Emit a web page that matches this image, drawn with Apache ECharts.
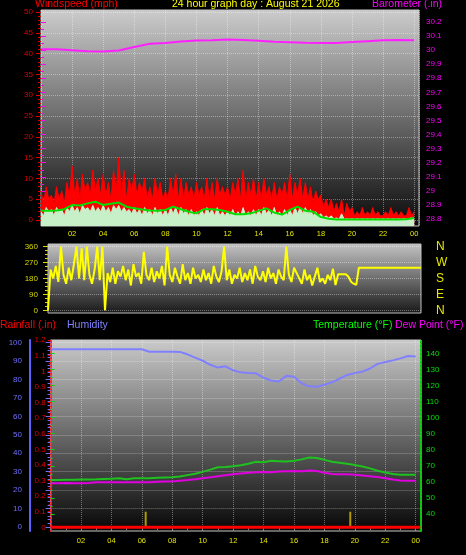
<!DOCTYPE html>
<html><head><meta charset="utf-8">
<script src="https://cdn.jsdelivr.net/npm/echarts@6/dist/echarts.min.js"></script>
<style>html,body{margin:0;padding:0;background:#000;}#c{width:466px;height:555px;}</style>
</head><body><div id="c"></div>
<script>
// ---------- DATA ----------
const hourLabels = ['00','02','04','06','08','10','12','14','16','18','20','22','00'];
// wind gust (mph), every 10 minutes
const windGust = [
 7,4,8,5,6,4, 8,5,7,4,9,6, 13,6,10,5,11,7, 9,6,12,7,10,6, 11,6,9,5,12,7, 15,6,12,5,10,7,
 11,6,9,7,10,5, 8,5,10,6,9,5, 7,5,10,6,11,5, 10,5,9,6,8,5, 9,6,8,5,10,5, 9,5,10,6,8,6,
 8,5,9,6,10,5, 12,5,9,6,10,5, 9,5,10,6,8,5, 9,5,8,6,9,5, 11,5,9,6,10,5, 9,5,8,4,7,5,
 6,3,5,3,5,2, 4,2,5,1,4,2, 3,1,2,1,3,1, 2,1,3,1,2,1, 1,2,1,3,1,2, 1,2,1,1,3,1, 2];
// wind speed (mph), every 10 minutes
const windSpeed = [
 2,1,3,2,2.5,1, 3,2,2.5,1,3,2, 3.5,2,3,1.5,3.5,2.5, 3,2,3.5,2,3,2, 3.5,2,3,1.5,3.5,2.5, 3.5,2,3,2,2.5,1.5,
 3,1.5,2.5,1,3,1.5, 2.5,1,3,1.5,2.5,1, 2.5,1,3,1.5,3,1, 3,1.5,2.5,1,2.5,1, 2,1,2.5,1,3,1.5, 2.5,1,3,1,2,1,
 2,1,2.5,1,2,1, 3,1,2,1,2.5,1, 2.5,1,3,1.5,2.5,1, 3,1,2,1,2.5,1, 2.5,1,3,1.5,3,1.5, 3,1.5,2.5,1,2,1,
 1.5,0.5,1,0.5,1,0.3, 0.5,0.2,1.5,0.2,0.3,0.2, 0.3,0.2,0.3,0.2,0.3,0.2, 0.3,0.2,0.3,0.2,0.3,0.2,
 0.3,0.2,0.3,0.2,0.3,0.2, 0.3,0.2,0.3,0.2,0.3,0.5, 0.3];
// average wind speed (mph), every 30 minutes
const windAvg = [
 2.2,2.2,2.3,2.6,3.6,3.5,4.0,4.4,3.6,3.9,4.2,3.2,2.8,2.5,2.3,2.2,2.4,3.2,2.6,2.0,
 1.6,2.6,2.6,2.4,2.0,1.4,1.4,1.6,2.2,2.8,1.8,1.3,2.4,3.2,2.2,2.0,0.7,0.3,0.1,
 0.1,0.1,0.1,0.1,0.1,0.1,0.1,0.1,0.2,0.5];
// barometer (in), hourly
const baro = [30.006,30.006,30.0,29.992,29.99,29.998,30.022,30.045,30.05,30.062,30.068,30.07,30.076,
 30.072,30.066,30.06,30.056,30.052,30.05,30.05,30.058,30.064,30.07,30.072,30.07];
// wind direction (deg), every 10 minutes
const windDir = [
 0,230,180,250,160,360, 200,150,240,170,260,360, 180,350,170,360,200,150, 230,360,170,360,0,210,
 160,240,150,220,190,250, 170,230,140,260,190,210, 150,330,200,170,240,160, 220,180,250,140,360,200,
 160,240,190,150,260,170, 210,150,240,180,200,160, 230,170,210,150,250,190, 160,220,360,170,230,150,
 200,180,240,160,210,170, 230,150,250,190,170,220, 160,240,180,210,150,230, 190,170,360,200,160,240,
 210,180,150,230,170,200, 140,190,240,160,180,150, 200,170,235,142,203,203, 203,203,189,161,150,143,
 240,240,240,240,240,240, 240,240,240,240,240,240, 240,240,240,240,240,240, 240,240,240,240,240,240, 240];
// humidity (%), every 30 minutes
const humidity = [96.4,96.4,96.4,96.4,96.4,96.4,96.4,96.4,96.4,96.4,96.4,96.4,96.4,95.1,95.1,95.1,95.1,95.0,
 93.7,91.9,90.2,88.0,86.5,87.2,85.0,83.9,83.6,83.4,81.0,79.5,79.0,82.0,81.5,78.0,76.3,76.1,77.2,78.5,
 80.5,82.5,83.5,84.3,86.0,88.5,89.5,90.4,91.5,92.8,92.5];
// temperature (F), every 30 minutes
const temperature = [61.2,61.2,61.3,61.3,61.4,61.5,61.6,61.8,62.0,62.2,61.6,62.2,62.2,62.3,62.5,62.7,62.9,
 63.3,64.2,65.1,66.2,67.6,69.1,69.3,69.7,70.3,71.3,72.5,72.2,73.2,72.9,72.6,73.2,74.0,75.2,74.8,73.7,
 72.5,71.9,71.3,70.5,69.6,68.4,66.9,65.8,64.9,64.5,64.4,64.4];
// dew point (F), every 30 minutes
const dewPoint = [59.1,59.1,59.3,59.1,59.1,59.3,59.7,59.7,59.7,59.7,59.7,59.7,59.7,59.8,60.0,60.2,60.3,
 60.7,61.1,61.6,62.2,62.9,63.5,64.1,64.7,65.2,65.7,66.0,66.1,66.0,66.4,66.6,66.8,66.6,67.0,66.8,65.6,
 64.9,64.8,64.7,64.4,63.9,63.5,63.0,62.3,61.5,60.9,60.7,60.7];
// rainfall (in)
const rainTimes = [0, 24.3];
const rain = [0, 0];
// sunrise / sunset markers
const sunTimes = [6.25, 19.7];
const sunHeight = [0.1, 0.1];

// ---------- BUILD ----------
const t10 = windGust.map((_, i) => i / 6);
const t30 = humidity.map((_, i) => i / 2);
const t60 = baro.map((_, i) => i);
const pts = (ts, vs) => vs.map((v, i) => [ts[i], v]);

const FONT = '"Liberation Sans", Arial, sans-serif';
const dotted = {type: 'dotted', color: 'rgba(255,255,255,0.38)', width: 1};
const grad = (a, b) => new echarts.graphic.LinearGradient(0, 0, 0, 1, [{offset: 0, color: a}, {offset: 1, color: b}]);
function hourFmt(v) {
  const k = v / 2;
  if (Math.abs(k - Math.round(k)) > 1e-6 || v < 1 || v > 24.01) return '';
  return hourLabels[Math.round(k)];
}
const numFmt = v => String(+v.toFixed(1));
const g = o => Object.assign({containLabel: false, outerBoundsMode: 'none'}, o);
const hiddenX = (gi, max) => ({type: 'value', gridIndex: gi, min: 0, max: max, show: false});
const hiddenY = (gi, min, max, pos) => ({type: 'value', gridIndex: gi, min: min, max: max, show: false, position: pos});
function labelY(gi, pos, min, max, interval, color, opts) {
  opts = opts || {};
  return {
    type: 'value', gridIndex: gi, position: pos, min: min, max: max, interval: interval,
    offset: opts.offset || 0,
    axisLine: {show: false},
    axisTick: {show: opts.tick !== false, length: opts.tickLen || 5, lineStyle: {color: color}},
    minorTick: {show: !!opts.minor, splitNumber: opts.minor || 2, length: opts.minorLen || 3, lineStyle: {color: color}},
    axisLabel: {color: color, fontSize: opts.fontSize || 8, fontFamily: FONT, margin: opts.margin || 8,
      formatter: opts.formatter || numFmt},
    splitLine: {show: !!opts.split, lineStyle: dotted},
    minorSplitLine: {show: false}
  };
}

const chart = echarts.init(document.getElementById('c'), null, {renderer: 'canvas'});
const titleStyle = c => ({color: c, fontSize: 10.5, fontWeight: 'normal', fontFamily: FONT});
chart.setOption({
  backgroundColor: '#000000',
  animation: false,
  title: [
    {text: 'Windspeed (mph)', left: 35, top: -1, padding: 0, textStyle: titleStyle('#ff0000')},
    {text: '24 hour graph day : August 21 2026', left: 172, top: -1, padding: 0, textStyle: titleStyle('#ffff00')},
    {text: 'Barometer (.in)', left: 372, top: -1, padding: 0, textStyle: titleStyle('#ff00ff')},
    {text: 'Rainfall (.in)', left: 0, top: 320, padding: 0, textStyle: titleStyle('#ff0000')},
    {text: 'Humidity', left: 67, top: 320, padding: 0, textStyle: titleStyle('#8080ff')},
    {text: 'Temperature (°F)', left: 313, top: 320, padding: 0, textStyle: titleStyle('#00ff00')},
    {text: 'Dew Point (°F)', left: 395, top: 320, padding: 0, textStyle: titleStyle('#ff00ff')}
  ],
  grid: [
    g({left: 41, top: 10, width: 378, height: 216, show: true, backgroundColor: grad('#cccccc', '#0a0a0a'), borderColor: '#c8c8c8', borderWidth: 1}),
    g({left: 41, top: 12, width: 378, height: 208}),
    g({left: 41, top: 22, width: 378, height: 197}),
    g({left: 48, top: 244, width: 373, height: 69, show: true, backgroundColor: grad('#c4c4c4', '#181818'), borderColor: '#c0c0c0', borderWidth: 1}),
    g({left: 48, top: 246.5, width: 373, height: 63.8}),
    g({left: 50.6, top: 340, width: 370.4, height: 191, show: true, backgroundColor: grad('#cacaca', '#060606'), borderColor: '#c8c8c8', borderWidth: 1}),
    g({left: 50.6, top: 340.1, width: 370.4, height: 187.2}),
    g({left: 50.6, top: 342.7, width: 370.4, height: 184.3}),
    g({left: 50.6, top: 353.3, width: 370.4, height: 160.7})
  ],
  xAxis: [
    {type: 'value', gridIndex: 0, min: 0, max: 24.31, interval: 2,
     axisLine: {show: false},
     axisTick: {show: true, length: 2, lineStyle: {color: '#707070'}},
     minorTick: {show: true, splitNumber: 2, length: 2, lineStyle: {color: '#707070'}},
     axisLabel: {formatter: hourFmt, color: '#e6e600', fontSize: 7.5, fontFamily: FONT, margin: 4},
     splitLine: {show: true, lineStyle: dotted}},
    hiddenX(1, 24.31),
    hiddenX(2, 24.31),
    hiddenX(3, 24),
    hiddenX(4, 24),
    {type: 'value', gridIndex: 5, min: 0, max: 24.35, interval: 2,
     axisLine: {show: false},
     axisTick: {show: true, length: 3, lineStyle: {color: '#808080'}},
     minorTick: {show: true, splitNumber: 2, length: 3, lineStyle: {color: '#808080'}},
     axisLabel: {formatter: hourFmt, color: '#e6e600', fontSize: 7.5, fontFamily: FONT, margin: 6},
     splitLine: {show: true, lineStyle: dotted}},
    hiddenX(6, 24.35),
    hiddenX(7, 24.35),
    hiddenX(8, 24.35)
  ],
  yAxis: [
    hiddenY(0, -1.44, 50.48, 'left'),                 // 0 wind data
    hiddenY(0, 28.7503, 30.2853, 'right'),            // 1 baro data
    labelY(1, 'left', 0, 50, 5, '#e00000', {minor: 5, split: true, margin: 8}),          // 2
    labelY(2, 'right', 28.8, 30.2, 0.1, '#ff00ff', {minor: 2, margin: 7}),              // 3
    hiddenY(3, -15.2, 374.1, 'left'),                 // 4 dir data
    labelY(4, 'left', 0, 360, 90, '#d8d800', {minor: 4, split: true, margin: 10, formatter: v => String(v)}), // 5
    labelY(4, 'right', 0, 360, 90, '#e8e800', {tick: false, margin: 15, fontSize: 12,
      formatter: v => ({0: 'N', 90: 'E', 180: 'S', 270: 'W', 360: 'N'})[v] || ''}),      // 6
    {type: 'value', gridIndex: 5, position: 'left', min: -0.0237, max: 1.2006,
     axisLine: {show: true, lineStyle: {color: '#ff2020', type: 'dotted', width: 2}},
     axisTick: {show: false}, axisLabel: {show: false}, splitLine: {show: false}},     // 7 rain data
    {type: 'value', gridIndex: 5, position: 'left', offset: 20.6, min: -2.17, max: 101.46,
     axisLine: {show: true, lineStyle: {color: '#6060ff', width: 2}},
     axisTick: {show: false}, axisLabel: {show: false}, splitLine: {show: false}},     // 8 humidity data
    {type: 'value', gridIndex: 5, position: 'right', min: 29.42, max: 148.28,
     axisLine: {show: true, lineStyle: {color: '#00d000', type: 'dotted', width: 2}},
     axisTick: {show: false}, axisLabel: {show: false}, splitLine: {show: false}},     // 9 temp data
    labelY(6, 'left', 0, 1.2, 0.1, '#e00000', {tickLen: 3, minor: 2, minorLen: 2, margin: 5}),       // 10
    labelY(7, 'left', 0, 100, 10, '#7070ff', {offset: 20.6, minor: 5, split: true, margin: 8,
      formatter: v => String(v)}),                                                     // 11
    labelY(8, 'right', 40, 140, 10, '#00e000', {tickLen: 4, minor: 2, minorLen: 2, margin: 5,
      formatter: v => String(v)})                                                      // 12
  ],
  series: [
    {type: 'line', xAxisIndex: 0, yAxisIndex: 0, data: pts(t10, windGust), symbol: 'none',
     lineStyle: {color: '#ff0000', width: 1}, areaStyle: {color: '#ff0000', opacity: 1, origin: 'start'}},
    {type: 'line', xAxisIndex: 0, yAxisIndex: 0, data: pts(t10, windSpeed), symbol: 'none',
     lineStyle: {color: '#c8f0c8', width: 1}, areaStyle: {color: '#c8f0c8', opacity: 1, origin: 'start'}},
    {type: 'line', xAxisIndex: 0, yAxisIndex: 0, data: pts(t30, windAvg), symbol: 'none',
     lineStyle: {color: '#00e000', width: 2}},
    {type: 'line', xAxisIndex: 0, yAxisIndex: 1, data: pts(t60, baro), symbol: 'none',
     lineStyle: {color: '#ff20ff', width: 2}},
    {type: 'line', xAxisIndex: 3, yAxisIndex: 4, data: pts(t10, windDir), symbol: 'none',
     lineStyle: {color: '#ffff00', width: 2}},
    {type: 'line', xAxisIndex: 5, yAxisIndex: 7, data: pts(rainTimes, rain), symbol: 'none',
     lineStyle: {color: '#ff0000', width: 3}},
    {type: 'bar', xAxisIndex: 5, yAxisIndex: 7, data: pts(sunTimes, sunHeight), barWidth: 2,
     itemStyle: {color: '#b09a00'}},
    {type: 'line', xAxisIndex: 5, yAxisIndex: 8, data: pts(t30, humidity), symbol: 'none',
     lineStyle: {color: '#8080ff', width: 2}},
    {type: 'line', xAxisIndex: 5, yAxisIndex: 9, data: pts(t30, temperature), symbol: 'none',
     lineStyle: {color: '#20c020', width: 2}},
    {type: 'line', xAxisIndex: 5, yAxisIndex: 9, data: pts(t30, dewPoint), symbol: 'none',
     lineStyle: {color: '#e000e0', width: 2}}
  ]
});
</script>
</body></html>
